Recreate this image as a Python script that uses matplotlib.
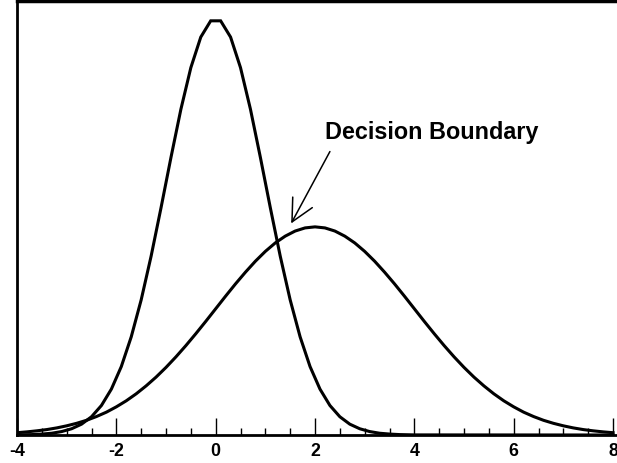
import numpy as np
import matplotlib
matplotlib.use('Agg')
import matplotlib.pyplot as plt
from matplotlib.ticker import MultipleLocator

# curve 1: narrow peak at 0 (coarse sampling)
x1 = [-4.0, -3.9, -3.7, -3.5, -3.3, -3.1, -2.9, -2.7, -2.5, -2.3, -2.1,
      -1.9, -1.7, -1.5, -1.3, -1.1, -0.9, -0.7, -0.5, -0.3, -0.1,
      0.1, 0.3, 0.5, 0.7, 0.9, 1.1, 1.3, 1.5, 1.7, 1.9,
      2.1, 2.3, 2.5, 2.7, 2.9, 3.1, 3.3, 3.5, 3.7, 3.9, 4.0, 8.0]
y1 = [0.0001, 0.0002, 0.0004, 0.0009, 0.0017, 0.0033, 0.0060, 0.0104, 0.0175, 0.0283, 0.0440,
      0.0656, 0.0941, 0.1295, 0.1714, 0.2179, 0.2661, 0.3123, 0.3521, 0.3814, 0.3970,
      0.3970, 0.3814, 0.3521, 0.3123, 0.2661, 0.2179, 0.1714, 0.1295, 0.0941, 0.0656,
      0.0440, 0.0283, 0.0175, 0.0104, 0.0060, 0.0033, 0.0017, 0.0009, 0.0004, 0.0002, 0.0001, 0.0]

# curve 2: wide peak at 2
x2 = [-4.0, -3.8, -3.6, -3.4, -3.2, -3.0, -2.8, -2.6, -2.4, -2.2, -2.0,
      -1.8, -1.6, -1.4, -1.2, -1.0, -0.8, -0.6, -0.4, -0.2, 0.0,
      0.2, 0.4, 0.6, 0.8, 1.0, 1.2, 1.4, 1.6, 1.8, 2.0,
      2.2, 2.4, 2.6, 2.8, 3.0, 3.2, 3.4, 3.6, 3.8, 4.0,
      4.2, 4.4, 4.6, 4.8, 5.0, 5.2, 5.4, 5.6, 5.8, 6.0,
      6.2, 6.4, 6.6, 6.8, 7.0, 7.2, 7.4, 7.6, 7.8, 8.0]
y2 = [0.0022, 0.0030, 0.0040, 0.0052, 0.0068, 0.0088, 0.0112, 0.0141, 0.0177, 0.0219, 0.0270,
      0.0328, 0.0395, 0.0471, 0.0555, 0.0648, 0.0749, 0.0857, 0.0971, 0.1089, 0.1210,
      0.1331, 0.1449, 0.1561, 0.1666, 0.1760, 0.1841, 0.1906, 0.1955, 0.1985, 0.1995,
      0.1985, 0.1955, 0.1906, 0.1841, 0.1760, 0.1666, 0.1561, 0.1449, 0.1331, 0.1210,
      0.1089, 0.0971, 0.0857, 0.0749, 0.0648, 0.0555, 0.0471, 0.0395, 0.0328, 0.0270,
      0.0219, 0.0177, 0.0141, 0.0112, 0.0088, 0.0068, 0.0052, 0.0040, 0.0030, 0.0022]

xticks = [-4, -2, 0, 2, 4, 6, 8]

plt.rcParams['font.family'] = ['Liberation Sans', 'DejaVu Sans']
plt.rcParams['font.weight'] = 'bold'

fig = plt.figure(figsize=(6.17, 4.64), dpi=100)
ax = fig.add_axes([17/617, 28/464, 600/617, 434/464])

ax.plot(x1, y1, color='black', lw=2.2, solid_joinstyle='miter')
ax.plot(x2, y2, color='black', lw=2.2)

ax.set_xlim(-4, 8.08)
ax.set_ylim(0, 0.416)

ax.set_xticks(xticks)
ax.set_xticklabels([str(t) for t in xticks], fontsize=12.8, fontweight='bold')
ax.xaxis.set_minor_locator(MultipleLocator(0.5))
ax.tick_params(axis='x', which='major', direction='in', length=12, width=1, pad=5)
ax.tick_params(axis='x', which='minor', direction='in', length=5, width=1)
ax.set_yticks([])

ax.spines['right'].set_visible(False)
ax.spines['left'].set_linewidth(2)
ax.spines['top'].set_linewidth(2.5)
ax.spines['bottom'].set_linewidth(2)

ax.text(4.34, 0.2908, 'Decision Boundary', fontsize=16.8, fontweight='bold',
        ha='center', va='center')
ax.annotate('', xy=(1.52, 0.2028), xytext=(2.30, 0.2717),
            arrowprops=dict(arrowstyle='->', color='black', lw=1.1,
                            mutation_scale=40, shrinkA=0, shrinkB=0))

fig.savefig('out.png', dpi=100)
